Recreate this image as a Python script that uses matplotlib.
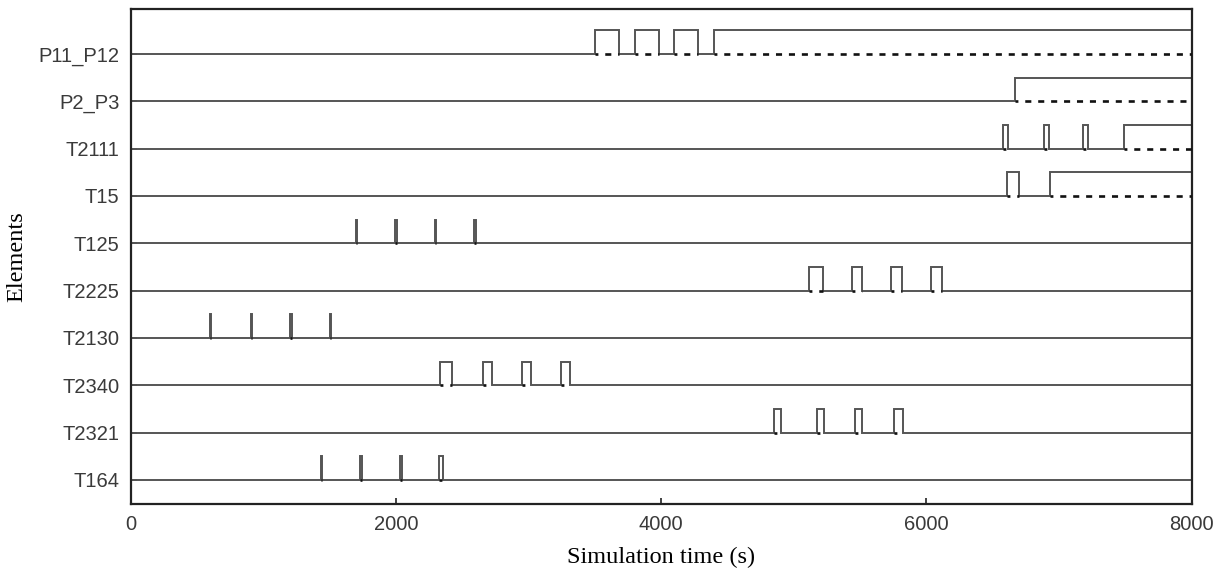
import matplotlib
matplotlib.use("Agg")
import matplotlib.pyplot as plt

# Row labels, top to bottom
elements = ["P11_P12", "P2_P3", "T2111", "T15", "T125",
            "T2225", "T2130", "T2340", "T2321", "T164"]

# Rising / falling edge times (s) for each element; None = stays high to end
p11_p12_rise = [3500, 3800, 4095, 4395]
p11_p12_fall = [3680, 3985, 4280, None]
p2_p3_rise = [6670]
p2_p3_fall = [None]
t2111_rise = [6580, 6890, 7178, 7490]
t2111_fall = [6612, 6925, 7218, None]
t15_rise = [6610, 6928]
t15_fall = [6695, None]
t125_rise = [1698, 1996, 2295, 2592]
t125_fall = [1708, 2008, 2305, 2604]
t2225_rise = [5115, 5436, 5730, 6032]
t2225_fall = [5222, 5516, 5818, 6115]
t2130_rise = [600, 905, 1200, 1502]
t2130_fall = [608, 917, 1215, 1512]
t2340_rise = [2335, 2657, 2948, 3248]
t2340_fall = [2425, 2722, 3021, 3312]
t2321_rise = [4848, 5172, 5463, 5756]
t2321_fall = [4905, 5227, 5516, 5825]
t164_rise = [1432, 1730, 2030, 2324]
t164_fall = [1446, 1742, 2044, 2357]

rises = [p11_p12_rise, p2_p3_rise, t2111_rise, t15_rise, t125_rise,
         t2225_rise, t2130_rise, t2340_rise, t2321_rise, t164_rise]
falls = [p11_p12_fall, p2_p3_fall, t2111_fall, t15_fall, t125_fall,
         t2225_fall, t2130_fall, t2340_fall, t2321_fall, t164_fall]

x_ticks = [0, 2000, 4000, 6000, 8000]
t_end = 8000
pulse_h = 0.5

fig = plt.figure(figsize=(12.19, 5.74), dpi=100)
ax = fig.add_axes([0.1072, 0.1220, 0.8704, 0.8623])

n = len(elements)
line_col = "#555555"
for i, name in enumerate(elements):
    base = n - i
    xs, ys = [0], [base]
    for r, f in zip(rises[i], falls[i]):
        fe = t_end if f is None else f
        xs += [r, r, fe, fe]
        ys += [base, base + pulse_h, base + pulse_h, base]
    xs.append(t_end)
    ys.append(base)
    ax.plot(xs, ys, color=line_col, lw=1.4, solid_joinstyle="miter", zorder=2)
    for r, f in zip(rises[i], falls[i]):
        fe = t_end if f is None else f
        ax.plot([r, fe], [base, base], color="#111111", lw=1.9,
                linestyle=(1.2, (2.3, 2.6)), zorder=3)

ax.set_xlim(0, t_end)
ax.set_ylim(0.49, n + 0.95)
ax.set_xticks(x_ticks)
ax.set_xticklabels([str(v) for v in x_ticks], fontsize=14.5,
                   family="Liberation Sans", color="#3a3a3a")
ax.set_yticks(list(range(n, 0, -1)))
ax.set_yticklabels(elements, fontsize=14.5, family="Liberation Sans",
                   color="#3a3a3a")
ax.tick_params(axis="both", direction="in", length=4, width=1.2, color="#222222")
ax.tick_params(axis="x", pad=8)
ax.tick_params(axis="y", pad=8)
for sp in ax.spines.values():
    sp.set_linewidth(1.6)
    sp.set_color("#222222")

ax.set_xlabel("Simulation time (s)", fontsize=17.5, family="Liberation Serif",
              labelpad=9)
ax.set_ylabel("Elements", fontsize=17.5, family="Liberation Serif", labelpad=8)

fig.savefig("out.png", dpi=100)
